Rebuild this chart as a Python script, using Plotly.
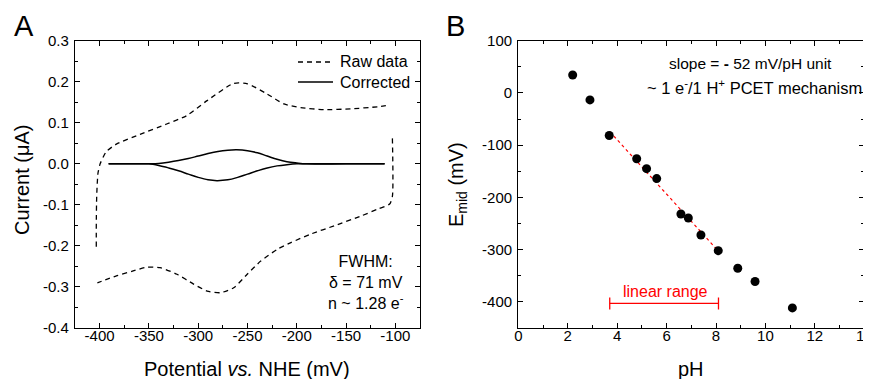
import plotly.graph_objects as go

# ---------- Panel A data (cyclic voltammetry) ----------
raw_x = [-403.4, -403.4, -403.0, -401.7, -399.5, -396.5, -393.2, -383, -359, -332, -312, -291, -264, -250,
         -230, -213, -196, -172, -145, -118, -106,
         None,
         -103, -103, -105.8, -117.6, -134.7, -162, -185.7, -206, -219.6, -236.6, -250.3, -264, -277.5,
         -291, -304.7, -321.6, -338.6, -352.3, -366, -383, -402.3]
raw_y = [-0.202, -0.15, -0.08, -0.023, 0.0, 0.016, 0.030, 0.048, 0.072, 0.097, 0.117, 0.154, 0.196, 0.195,
         0.170, 0.146, 0.137, 0.132, 0.134, 0.139, 0.143,
         None,
         0.062, -0.079, -0.098, -0.110, -0.127, -0.151, -0.171, -0.192, -0.208, -0.237, -0.269, -0.302, -0.314,
         -0.310, -0.293, -0.269, -0.253, -0.252, -0.261, -0.273, -0.290]

corr_x = [-390.9, -360, -347.5, -340, -330, -320, -310, -300, -290, -280, -270, -261, -250, -240, -230,
          -220, -210, -200, -190, -150, -110.9,
          None,
          -390.9, -360, -350, -340, -330, -320, -310, -300, -290, -281, -270, -260, -250, -240, -230,
          -220, -210, -200, -190, -150, -110.9]
corr_y = [0, 0, 0, 0.001, 0.004, 0.008, 0.013, 0.019, 0.025, 0.030, 0.033, 0.034, 0.032, 0.027, 0.019,
          0.011, 0.005, 0.002, 0, 0, 0,
          None,
          0, 0, 0, -0.004, -0.010, -0.017, -0.025, -0.033, -0.039, -0.041, -0.039, -0.033, -0.025, -0.017, -0.010,
          -0.005, -0.002, 0, 0, 0, 0]

a_xticks = [-400, -350, -300, -250, -200, -150, -100]
a_xtext = ["-400", "-350", "-300", "-250", "-200", "-150", "-100"]
a_yticks = [0.3, 0.2, 0.1, 0.0, -0.1, -0.2, -0.3, -0.4]
a_ytext = ["0.3", "0.2", "0.1", "0.0", "-0.1", "-0.2", "-0.3", "-0.4"]
legend_labels = ["Raw data", "Corrected"]

# ---------- Panel B data ----------
ph = [2.2, 2.9, 3.68, 4.79, 5.19, 5.6, 6.58, 6.88, 7.39, 8.09, 8.88, 9.58, 11.09]
emid = [34.4, -13.4, -81.5, -126, -145, -164, -231.8, -239.5, -272, -302, -335.7, -361, -411.5]
fit_x = [3.7, 8.1]
fit_y = [-74, -303]
range_x = [3.7, 8.1]
range_y = [-403, -403]

b_xticks = [0, 2, 4, 6, 8, 10, 12, 14]
b_xtext = ["0", "2", "4", "6", "8", "10", "12", "14"]
b_yticks = [100, 0, -100, -200, -300, -400]
b_ytext = ["100", "0", "-100", "-200", "-300", "-400"]

FONT = "Arial, Liberation Sans, sans-serif"
OFF = 8                 # page body margin
W, H = 871, 379 - OFF

def px_x(p):
    return (p - OFF) / W

def px_y(p):
    return 1 - (p - OFF) / H

fig = go.Figure()

fig.add_trace(go.Scatter(x=raw_x, y=raw_y, mode="lines", name=legend_labels[0], showlegend=False,
                         line=dict(color="black", width=1.3, dash="5px,4px", shape="spline", smoothing=0.6),
                         xaxis="x", yaxis="y", connectgaps=False))
fig.add_trace(go.Scatter(x=corr_x, y=corr_y, mode="lines", name=legend_labels[1], showlegend=False,
                         line=dict(color="black", width=1.5, shape="spline", smoothing=1.0),
                         xaxis="x", yaxis="y", connectgaps=False))

fig.add_trace(go.Scatter(x=fit_x, y=fit_y, mode="lines", showlegend=False,
                         line=dict(color="red", width=1.2, dash="3px,3px"), xaxis="x2", yaxis="y2"))
fig.add_trace(go.Scatter(x=ph, y=emid, mode="markers", showlegend=False,
                         marker=dict(color="black", size=9), xaxis="x2", yaxis="y2"))
fig.add_trace(go.Scatter(x=range_x, y=range_y, mode="lines", showlegend=False,
                         line=dict(color="red", width=1.3),
                         error_y=dict(type="constant", value=11.5, color="red", thickness=1.3, width=0),
                         xaxis="x2", yaxis="y2"))

axis_common = dict(showline=True, linecolor="black", linewidth=1.3, mirror="ticks",
                   ticks="inside", ticklen=5, tickwidth=1.2, tickcolor="black",
                   showgrid=False, zeroline=False, automargin=False, ticklabeloverflow="allow",
                   tickfont=dict(family=FONT, size=15, color="black"))

fig.update_layout(
    width=W, height=H,
    margin=dict(l=0, r=0, t=0, b=0),
    paper_bgcolor="white", plot_bgcolor="white",
    font=dict(family=FONT, color="black"),
    xaxis=dict(domain=[px_x(75), px_x(420)], range=[-425, -75], anchor="y",
               tickmode="array", tickvals=a_xticks, ticktext=a_xtext, ticklabelstandoff=-6,
               minor=dict(tickmode="linear", tick0=-400, dtick=25, ticks="inside", ticklen=3, tickcolor="black"),
               **axis_common),
    yaxis=dict(domain=[px_y(328), px_y(40.7)], range=[-0.4, 0.3], anchor="x",
               tickmode="array", tickvals=a_yticks, ticktext=a_ytext, ticklabelstandoff=2,
               minor=dict(tickmode="linear", tick0=0, dtick=0.05, ticks="inside", ticklen=3, tickcolor="black"),
               **axis_common),
    xaxis2=dict(domain=[px_x(518.3), px_x(864.3)], range=[0, 14], anchor="y2",
                tickmode="array", tickvals=b_xticks, ticktext=b_xtext, ticklabelstandoff=-6,
                minor=dict(tickmode="linear", tick0=0, dtick=1, ticks="inside", ticklen=3, tickcolor="black"),
                **axis_common),
    yaxis2=dict(domain=[px_y(328), px_y(40.7)], range=[-450, 100], anchor="x2",
                tickmode="array", tickvals=b_yticks, ticktext=b_ytext, ticklabelstandoff=2,
                minor=dict(tickmode="linear", tick0=0, dtick=50, ticks="inside", ticklen=3, tickcolor="black"),
                **axis_common),
    showlegend=False,
)

# legend samples (manual, to match the compact original legend)
shapes = [
    dict(type="line", xref="paper", yref="paper", x0=px_x(298), x1=px_x(333), y0=px_y(62), y1=px_y(62),
         line=dict(color="black", width=1.3, dash="5px,4px")),
    dict(type="line", xref="paper", yref="paper", x0=px_x(298), x1=px_x(333), y0=px_y(82), y1=px_y(82),
         line=dict(color="black", width=1.5)),
]
fig.update_layout(shapes=shapes)

ann = []
def add_text(x, y, text, size=16, color="black", xanchor="center", yanchor="middle", textangle=0, align="center"):
    ann.append(dict(x=px_x(x), y=px_y(y), xref="paper", yref="paper", text=text, showarrow=False,
                    font=dict(family=FONT, size=size, color=color), xanchor=xanchor, yanchor=yanchor,
                    textangle=textangle, align=align))

add_text(338, 62, legend_labels[0], xanchor="left")
add_text(338, 82, legend_labels[1], xanchor="left")
add_text(24, 26, "A", size=29)
add_text(455, 26, "B", size=29)
add_text(247, 369, "Potential <i>vs.</i> NHE (mV)", size=20)
add_text(22, 180, "Current (μA)", size=20, textangle=-90)
add_text(691, 369, "pH", size=20)
add_text(457, 185, "E<sub>mid</sub> (mV)", size=20, textangle=-90)
add_text(366, 282, "FWHM:<br>δ = 71 mV<br>n ~ 1.28 e<sup>-</sup>", size=16)
add_text(750, 64, "slope = <b>-</b> 52 mV/pH unit", size=15.5)
add_text(754, 87, "~ 1 e<sup>-</sup>/1 H<sup>+</sup> PCET mechanism", size=16.5)
add_text(665, 291, "linear range", size=16, color="red")
fig.update_layout(annotations=ann)

fig.write_html("out.html")
